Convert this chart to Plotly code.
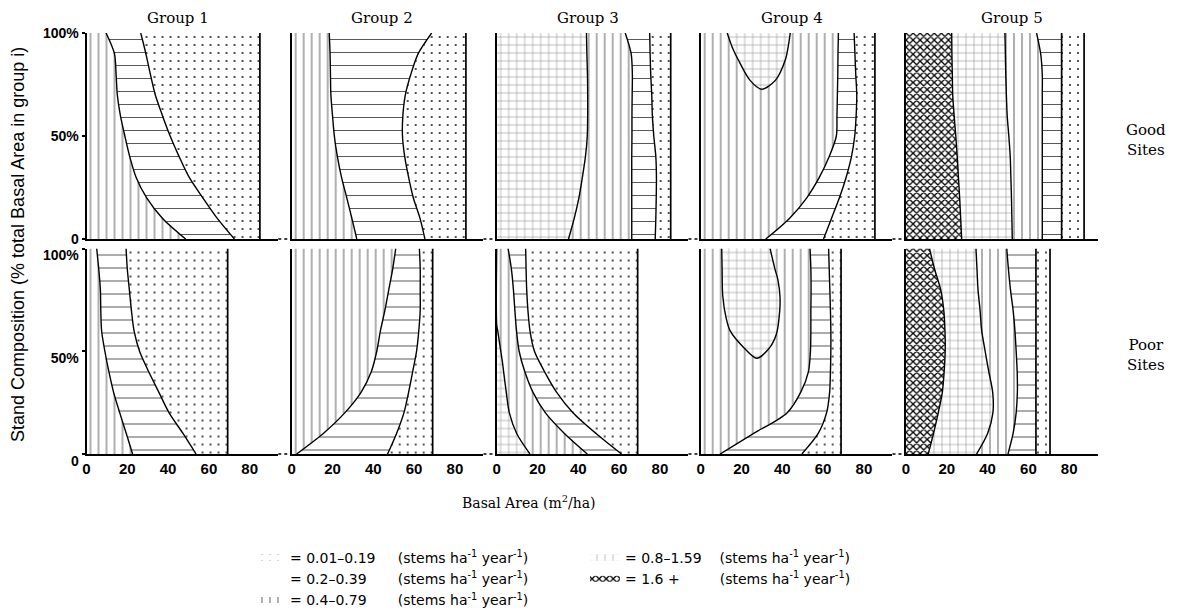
import plotly.graph_objects as go

# The page body keeps the browser's default 8px margin, so the figure is
# sized to fill the 1179x614 window exactly from that offset.
PAGE_OFF = 8
W, H = 1179 - PAGE_OFF, 614 - PAGE_OFF

# ---------------- data ----------------
groups = ["Group 1", "Group 2", "Group 3", "Group 4", "Group 5"]
site_labels = ["Good<br>Sites", "Poor<br>Sites"]
class_labels = ["= 0.01–0.19", "= 0.2–0.39", "= 0.4–0.79", "= 0.8–1.59", "= 1.6 +"]
unit_label = "(stems ha<sup>-1</sup> year<sup>-1</sup>)"

x_ticks = [0, 20, 40, 60, 80]
y_ticks = [0, 50, 100]
y_tick_text = ["0", "50%", "100%"]

# stand composition levels (% of total basal area in group i)
levels = [100, 90, 80, 70, 60, 50, 40, 30, 20, 10, 0]

# ---- Good sites: basal area (m2/ha) of each contour at each level ----
good_g1_a = [9.6, 13.7, 14.5, 15.1, 16.6, 18.8, 21.2, 24.3, 29.5, 37.3, 48.6]
good_g1_b = [26.6, 29.1, 31.3, 33.7, 37.2, 41.0, 45.4, 50.3, 57.0, 64.1, 72.5]
good_g1_max = 85.0

good_g2_a = [18.4, 18.8, 19.0, 19.2, 20.0, 20.9, 22.4, 24.4, 27.0, 29.5, 31.9]
good_g2_b = [68.6, 62.0, 58.4, 55.7, 54.5, 54.3, 55.4, 57.3, 59.6, 62.9, 65.3]
good_g2_max = 85.4

good_g3_a = [44.0, 44.2, 44.5, 44.6, 44.6, 44.4, 43.5, 42.0, 40.3, 38.0, 35.2]
good_g3_b = [63.0, 65.9, 66.5, 66.4, 66.3, 66.3, 66.2, 66.2, 66.2, 66.2, 66.2]
good_g3_c = [75.0, 75.2, 75.5, 76.0, 76.3, 77.0, 78.0, 78.3, 78.2, 78.0, 77.7]
good_g3_max = 85.3

good_g4_a = [67.5, 67.3, 67.2, 67.0, 66.8, 66.5, 63.0, 58.2, 52.0, 43.5, 31.9]
good_g4_b = [75.2, 75.6, 76.0, 76.5, 76.2, 75.5, 73.9, 71.3, 68.0, 64.1, 60.2]
good_g4_max = 85.4
good_g4_bubble_x = [13.0, 15.5, 18.4, 24.2, 29.9, 36.6, 41.5, 43.0, 43.9]
good_g4_bubble_y = [100, 93, 87, 77, 72.7, 77, 87, 94, 100]

good_g5_a = [22.4, 22.5, 22.7, 22.9, 23.6, 24.4, 25.1, 25.7, 26.3, 26.8, 27.3]
good_g5_b = [48.5, 48.7, 48.9, 49.2, 49.6, 50.4, 51.1, 51.4, 51.7, 51.9, 52.1]
good_g5_c = [64.0, 66.0, 66.8, 66.8, 66.8, 66.8, 66.8, 66.8, 66.8, 66.8, 66.8]
good_g5_d = 76.3
good_g5_max = 87.3

# ---- Poor sites ----
poor_g1_a = [5.0, 6.0, 6.8, 7.0, 7.4, 9.0, 11.0, 13.3, 16.3, 19.5, 22.6]
poor_g1_b = [19.4, 20.0, 21.0, 22.0, 23.3, 26.0, 30.5, 35.5, 40.5, 47.3, 53.7]
poor_g1_max = 69.2

poor_g2_a = [51.0, 49.5, 47.6, 45.7, 43.5, 41.7, 39.0, 34.0, 26.0, 15.5, 2.4]
poor_g2_b = [62.6, 63.0, 63.0, 63.0, 62.3, 61.2, 59.3, 57.3, 55.0, 51.4, 47.0]
poor_g2_max = 69.1

poor_g3_a_x = [0.0, 0.0, 0.5, 2.0, 2.9, 3.4, 4.7, 6.2, 9.8, 16.3]
poor_g3_a_y = [100, 63, 60, 50, 44, 40, 30, 20, 10, 0]
poor_g3_b = [5.6, 7.2, 8.2, 8.9, 9.7, 11.0, 13.8, 17.8, 23.9, 33.2, 44.4]
poor_g3_c = [14.2, 14.4, 14.7, 15.3, 16.3, 18.5, 23.5, 29.4, 37.5, 48.7, 61.2]
poor_g3_max = 69.1

poor_g4_a = [53.6, 54.0, 54.1, 54.0, 54.0, 53.8, 52.8, 49.0, 42.3, 26.0, 9.5]
poor_g4_b = [62.7, 63.0, 63.3, 63.6, 63.8, 63.8, 63.6, 63.2, 61.7, 57.6, 49.6]
poor_g4_max = 68.8
poor_g4_bubble_x = [10.3, 10.5, 10.8, 12.5, 14.4, 20.9, 27.5, 34.0, 37.0, 38.1, 38.9, 37.8, 36.4, 34.0]
poor_g4_bubble_y = [100, 90, 77, 66, 60, 52, 46.6, 52, 58, 63.6, 76, 85, 90, 100]

poor_g5_a = [11.5, 14.0, 17.0, 18.5, 19.1, 19.2, 18.7, 17.8, 15.8, 13.5, 10.9]
poor_g5_b = [34.3, 34.8, 35.3, 36.3, 37.1, 38.8, 40.6, 42.5, 42.6, 40.0, 34.6]
poor_g5_c = [49.4, 50.2, 51.2, 52.5, 53.4, 54.0, 54.5, 54.6, 54.0, 52.5, 50.0]
poor_g5_d = 63.7
poor_g5_max = 70.6

# class index: 0=0.01-0.19, 1=0.2-0.39, 2=0.4-0.79, 3=0.8-1.59, 4=1.6+
panels = [
    dict(bounds=[good_g1_a, good_g1_b, good_g1_max], classes=[2, 1, 0]),
    dict(bounds=[good_g2_a, good_g2_b, good_g2_max], classes=[2, 1, 0]),
    dict(bounds=[good_g3_a, good_g3_b, good_g3_c, good_g3_max], classes=[3, 2, 1, 0]),
    dict(bounds=[good_g4_a, good_g4_b, good_g4_max], classes=[2, 1, 0],
         bubble=(good_g4_bubble_x, good_g4_bubble_y, 3)),
    dict(bounds=[good_g5_a, good_g5_b, good_g5_c, good_g5_d, good_g5_max], classes=[4, 3, 2, 1, 0]),
    dict(bounds=[poor_g1_a, poor_g1_b, poor_g1_max], classes=[2, 1, 0]),
    dict(bounds=[poor_g2_a, poor_g2_b, poor_g2_max], classes=[2, 1, 0]),
    dict(bounds=[(poor_g3_a_x, poor_g3_a_y), poor_g3_b, poor_g3_c, poor_g3_max], classes=[3, 2, 1, 0]),
    dict(bounds=[poor_g4_a, poor_g4_b, poor_g4_max], classes=[2, 1, 0],
         bubble=(poor_g4_bubble_x, poor_g4_bubble_y, 3)),
    dict(bounds=[poor_g5_a, poor_g5_b, poor_g5_c, poor_g5_d, poor_g5_max], classes=[4, 3, 2, 1, 0]),
]

# ---------------- styling ----------------
patterns = [
    dict(shape=".", size=8, solidity=0.05, fgopacity=0.9),
    dict(shape="-", size=13, solidity=0.08, fgopacity=0.65),
    dict(shape="|", size=8, solidity=0.13, fgopacity=0.6),
    dict(shape="+", size=8, solidity=0.1, fgopacity=0.6),
    dict(shape="x", size=5, solidity=0.45, fgopacity=1.0),
]

# layout positions in window pixels
col_left_px = [86.5, 291.7, 496.7, 700.7, 906.0]
px_per_unit = 2.04
x_max = 94.0
row_px = [(33.0, 239.0), (248.5, 454.0)]  # (top, bottom)
title_px = [178, 382, 588, 792, 1012]
label_shift = [0, 7]


def px(sx):
    return (sx - PAGE_OFF) / W


def py(sy):
    return 1 - (sy - PAGE_OFF) / H


def norm(b):
    if isinstance(b, tuple):
        return list(b[0]), list(b[1])
    if isinstance(b, (int, float)):
        return [b, b], [100, 0]
    return list(b), list(levels)


fig = go.Figure()
legend_shown = set()
layout = {}
nb = "\u00a0"
pads = [5, 7, 7, 4, 9]

for i, p in enumerate(panels):
    row, col = divmod(i, 5)
    n = i + 1
    xa = "x" if n == 1 else f"x{n}"
    ya = "y" if n == 1 else f"y{n}"
    bnds = [([0, 0], [100, 0])] + [norm(b) for b in p["bounds"]]
    # region fills
    for k, cls in enumerate(p["classes"]):
        lx, ly = bnds[k]
        rx, ry = bnds[k + 1]
        show = cls not in legend_shown
        legend_shown.add(cls)
        pat = dict(patterns[cls], fgcolor="black", bgcolor="white")
        fig.add_trace(go.Scatter(
            x=lx[::-1] + rx, y=ly[::-1] + ry, xaxis=xa, yaxis=ya,
            fill="toself", mode="none", fillcolor="white", fillpattern=pat,
            name=class_labels[cls] + nb * pads[cls] + unit_label,
            legendgroup=str(cls), showlegend=show,
            legend="legend" if cls < 3 else "legend2", legendrank=cls,
            hoverinfo="skip"))
    if "bubble" in p:
        bx, by, cls = p["bubble"]
        pat = dict(patterns[cls], fgcolor="black", bgcolor="white")
        fig.add_trace(go.Scatter(
            x=bx, y=by, xaxis=xa, yaxis=ya, fill="toself", mode="lines",
            line=dict(color="black", width=1.4, shape="spline", smoothing=0.8),
            fillcolor="white", fillpattern=pat, legendgroup=str(cls),
            showlegend=False, hoverinfo="skip"))
    # contour lines
    for b in bnds[1:]:
        bx, by = b
        vertical = len(bx) == 2
        fig.add_trace(go.Scatter(
            x=bx, y=by, xaxis=xa, yaxis=ya, mode="lines",
            line=dict(color="black", width=1.7 if vertical else 1.4,
                      shape="linear" if vertical else "spline", smoothing=0.8),
            showlegend=False, hoverinfo="skip"))

    left = col_left_px[col]
    right = left + x_max * px_per_unit
    top, bottom = row_px[row]
    xkey = "xaxis" if n == 1 else f"xaxis{n}"
    ykey = "yaxis" if n == 1 else f"yaxis{n}"
    layout[xkey] = dict(
        domain=[px(left), px(right)], range=[0, x_max], anchor=ya,
        showgrid=False, zeroline=False, showline=True, linecolor="black", linewidth=2,
        tickvals=x_ticks, showticklabels=(row == 1), ticks="",
        tickfont=dict(family="Liberation Sans", size=15, color="black", weight="bold"))
    layout[ykey] = dict(
        domain=[py(bottom), py(top)], range=[0, 100], anchor=xa,
        showgrid=False, zeroline=False, showline=True, linecolor="black", linewidth=2,
        tickvals=y_ticks, ticktext=y_tick_text, showticklabels=(col == 0),
        ticks="outside" if col == 0 else "", ticklen=3, tickwidth=1.5, tickcolor="black",
        ticklabelshift=label_shift[row],
        tickfont=dict(family="Liberation Sans", size=14, color="black", weight="bold"))

# dashed connections of the baselines between panels
shapes = []
for row in range(2):
    yb = py(row_px[row][1])
    for col in range(4):
        x0 = px(col_left_px[col] + x_max * px_per_unit)
        x1 = px(col_left_px[col + 1])
        shapes.append(dict(type="line", xref="paper", yref="paper", x0=x0, x1=x1, y0=yb, y1=yb,
                           line=dict(color="black", width=1.5, dash="3px,3px")))

annotations = []
for col, g in enumerate(groups):
    annotations.append(dict(text=g, x=px(title_px[col]), y=py(18), xref="paper", yref="paper",
                            showarrow=False, xanchor="center", yanchor="middle",
                            font=dict(family="DejaVu Serif", size=15, color="black")))
for row, s in enumerate(site_labels):
    annotations.append(dict(text=s, x=px(1146), y=py(140 if row == 0 else 355),
                            xref="paper", yref="paper", showarrow=False,
                            xanchor="center", yanchor="middle",
                            font=dict(family="DejaVu Serif", size=15, color="black")))
annotations.append(dict(text="Stand Composition (% total Basal Area in group i)",
                        x=px(18), y=py(245), xref="paper", yref="paper", textangle=-90,
                        showarrow=False, xanchor="center", yanchor="middle",
                        font=dict(family="Liberation Sans", size=18, color="black")))
annotations.append(dict(text="Basal Area (m<sup>2</sup>/ha)", x=px(529), y=py(502),
                        xref="paper", yref="paper", showarrow=False,
                        xanchor="center", yanchor="middle",
                        font=dict(family="DejaVu Serif", size=14, color="black")))

fig.update_layout(
    width=W, height=H, margin=dict(l=0, r=0, t=0, b=0, autoexpand=False),
    paper_bgcolor="white", plot_bgcolor="white",
    shapes=shapes, annotations=annotations,
    legend=dict(x=px(250), y=py(542), xanchor="left", yanchor="top",
                font=dict(family="DejaVu Sans", size=14, color="black"),
                tracegroupgap=0, bgcolor="rgba(0,0,0,0)"),
    legend2=dict(x=px(585), y=py(542), xanchor="left", yanchor="top",
                 font=dict(family="DejaVu Sans", size=14, color="black"),
                 tracegroupgap=0, bgcolor="rgba(0,0,0,0)"),
    **layout)

fig.write_html("out.html")
